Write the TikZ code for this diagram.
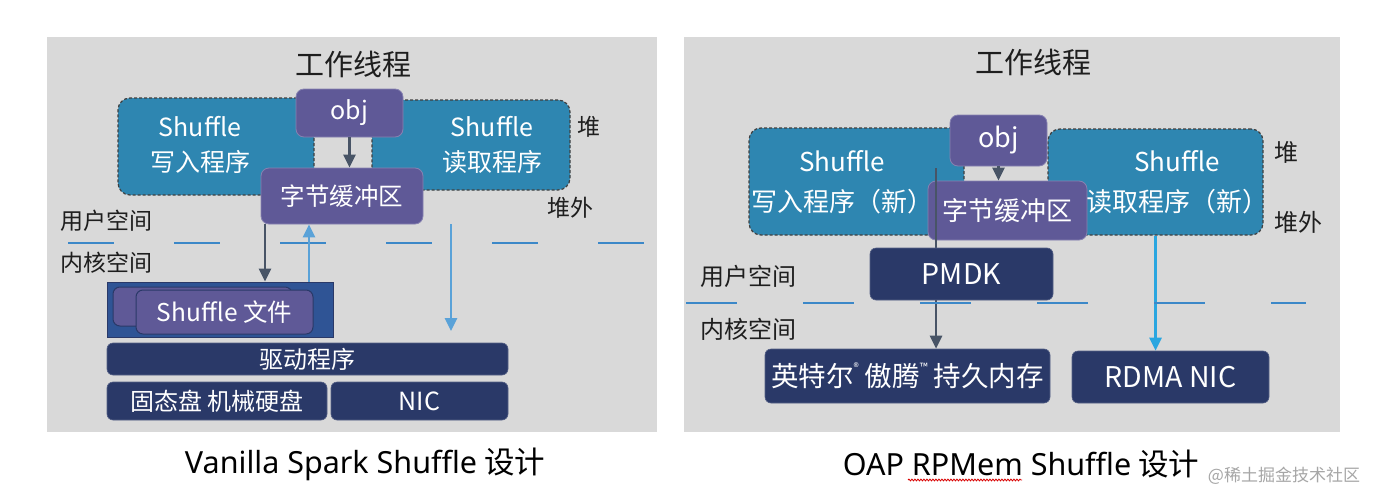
\documentclass[tikz,border=0pt]{standalone}
\usepackage{fontspec}
\setmainfont{Noto Sans CJK SC}
\newfontfamily\capfont{Noto Sans}
\usetikzlibrary{arrows.meta,decorations.pathmorphing}
\definecolor{bggray}{HTML}{D9D9D9}
\definecolor{cteal}{HTML}{2E86B1}
\definecolor{cpurple}{HTML}{5F5997}
\definecolor{cnavy}{HTML}{2A3968}
\definecolor{cfile}{HTML}{2F5495}
\definecolor{cdash}{HTML}{3C88C8}
\definecolor{cdark}{HTML}{485466}
\definecolor{clight}{HTML}{5AA2D8}
\definecolor{cbright}{HTML}{2AA6E0}
\definecolor{ctext}{HTML}{1E1E1E}
\tikzset{
  heapbox/.style={draw=black!75, dash pattern=on 3pt off 2pt, line width=1.2pt, fill=cteal, rounded corners=12pt, inner sep=0pt},
  pbox/.style={fill=cpurple, draw=cpurple!75!white, line width=0.8pt, rounded corners=8pt, text=white, inner sep=0pt},
  nbox/.style={fill=cnavy, draw=cnavy!80!white, line width=0.6pt, rounded corners=6pt, text=white, inner sep=0pt},
  fbox/.style={fill=cpurple, draw=cnavy, line width=1pt, rounded corners=7pt, text=white, inner sep=0pt},
  lab/.style={text=ctext, inner sep=0pt, font=\fontsize{23}{26}\selectfont},
  wtxt/.style={text=white, inner sep=0pt, align=center},
  tip/.style={-{Triangle[width=12pt,length=13pt]}},
  darrow/.style={draw=cdark, line width=2.6pt, tip},
  larrow/.style={draw=clight, line width=2.6pt, tip},
  barrow/.style={draw=cbright, line width=2.6pt, tip},
  dashline/.style={draw=cdash, line width=2pt},
}
\begin{document}
\begin{tikzpicture}[x=1pt,y=-1pt]
\useasboundingbox (0,0) rectangle (1380,503);
\fill[white] (0,0) rectangle (1380,503);
% ---------- left panel ----------
\fill[bggray] (47,37) rectangle (657,432);
\node[text=ctext, inner sep=0pt, font=\fontsize{29}{30}\selectfont] (titleL) at (353,64) {工作线程};
\node[heapbox, minimum width=196pt, minimum height=97pt] (writerL) at (216,146.5) {};
\node[heapbox, minimum width=198pt, minimum height=90pt] (readerL) at (471,145) {};
\node[wtxt, font=\fontsize{25}{35}\selectfont] (writerLT) at (200,145) {Shuffle\\写入程序};
\node[wtxt, font=\fontsize{25}{35}\selectfont] (readerLT) at (492,145) {Shuffle\\读取程序};
\node[pbox, minimum width=107pt, minimum height=48pt, font=\fontsize{25}{26}\selectfont] (objL) at (349.5,113) {obj};
\node[pbox, minimum width=162pt, minimum height=56pt, font=\fontsize{24.5}{26}\selectfont] (bufL) at (342,196) {字节缓冲区};
\draw[darrow] (objL.south) -- (objL.south |- bufL.north);
\node[lab] (heapL) at (589,127) {堆};
\node[lab] (offheapL) at (570,208) {堆外};
\node[lab] (userL) at (106,221) {用户空间};
\node[lab] (kernelL) at (106,263) {内核空间};
\draw[dashline, dash pattern=on 46pt off 60pt] (68,243) -- (648,243);
\node[fill=cfile, draw=cnavy, line width=1pt, minimum width=226pt, minimum height=55pt, inner sep=0pt] (contL) at (220,309.5) {};
\node[fbox, minimum width=179pt, minimum height=39pt] (fileBL) at (202.5,306.5) {};
\node[fbox, minimum width=177pt, minimum height=44pt, font=\fontsize{24.5}{26}\selectfont] (fileFL) at (224.5,312) {Shuffle 文件};
\node[nbox, minimum width=401pt, minimum height=32pt, font=\fontsize{24}{26}\selectfont] (drvL) at (307.5,359) {驱动程序};
\node[nbox, minimum width=220pt, minimum height=38pt, font=\fontsize{24}{26}\selectfont] (ssdL) at (217,401) {固态盘 机械硬盘};
\node[nbox, minimum width=177pt, minimum height=38pt, font=\fontsize{25}{26}\selectfont] (nicL) at (419.5,401) {NIC};
\draw[darrow] ([xshift=-77pt]bufL.south) -- ([xshift=-77pt]bufL.south |- contL.north);
\draw[larrow] ([xshift=-33pt]bufL.south |- contL.north) -- ([xshift=-33pt]bufL.south);
\coordinate (nicEnd) at (451,331);
\draw[larrow] (bufL.south -| nicEnd) -- (nicEnd);
\node[text=black, inner sep=0pt, font=\fontsize{30.5}{32}\selectfont] (capL) at (365,464) {{\capfont Vanilla Spark Shuffle} 设计};
% ---------- right panel ----------
\fill[bggray] (684,37) rectangle (1340,432);
\node[text=ctext, inner sep=0pt, font=\fontsize{29}{30}\selectfont] (titleR) at (1033,62) {工作线程};
\node[heapbox, minimum width=215pt, minimum height=107pt] (writerR) at (856.5,181.5) {};
\node[heapbox, minimum width=215pt, minimum height=106pt] (readerR) at (1155.5,182) {};
\node[wtxt, font=\fontsize{26}{40}\selectfont] (writerRT) at (842,182) {Shuffle\\写入程序（新）};
\node[wtxt, font=\fontsize{26}{40}\selectfont] (readerRT) at (1177,182) {Shuffle\\读取程序（新）};
\node[pbox, minimum width=97pt, minimum height=51pt, font=\fontsize{27}{28}\selectfont] (objR) at (998.5,140.5) {obj};
\node[pbox, minimum width=159pt, minimum height=59pt, font=\fontsize{26}{28}\selectfont] (bufR) at (1007.5,210.5) {字节缓冲区};
\draw[darrow] (objR.south) -- (objR.south |- bufR.north);
\node[nbox, minimum width=285pt, minimum height=54pt, font=\fontsize{27.5}{28}\selectfont] (intel) at (907.5,376) {英特尔\raisebox{0.55em}{\fontsize{11}{11}\selectfont ®} 傲腾\raisebox{0.55em}{\fontsize{11}{11}\selectfont ™} 持久内存};
\node[nbox, minimum width=197pt, minimum height=52pt, font=\fontsize{28.5}{30}\selectfont] (rdma) at (1170.5,377) {RDMA NIC};
\coordinate (pmStart) at (936,168);
\draw[darrow] (pmStart) -- (pmStart |- intel.north);
\node[nbox, minimum width=183pt, minimum height=52pt, font=\fontsize{28.5}{30}\selectfont] (pmdk) at (961.5,274) {PMDK};
\draw[barrow] (readerR.south) -- (readerR.south |- rdma.north);
\node[lab, font=\fontsize{24}{26}\selectfont] (heapR) at (1286,152) {堆};
\node[lab, font=\fontsize{24}{26}\selectfont] (offheapR) at (1298,222) {堆外};
\node[lab, font=\fontsize{24}{26}\selectfont] (userR) at (748,276) {用户空间};
\node[lab, font=\fontsize{24}{26}\selectfont] (kernelR) at (748,329) {内核空间};
\draw[dashline, dash pattern=on 51pt off 66pt] (686,303) -- (1306,303);
\node[text=black, inner sep=0pt, font=\fontsize{30.5}{32}\selectfont] (capR) at (1021,464) {{\capfont OAP RPMem Shuffle} 设计};
\draw[red!85!black, line width=0.8pt, decorate, decoration={snake, amplitude=0.9pt, segment length=3pt}] (908,480) -- (1022,480);
\node[text=black!35, inner sep=0pt, font=\fontsize{17}{19}\selectfont] (wm) at (1284,476) {@稀土掘金技术社区};
\end{tikzpicture}
\end{document}
